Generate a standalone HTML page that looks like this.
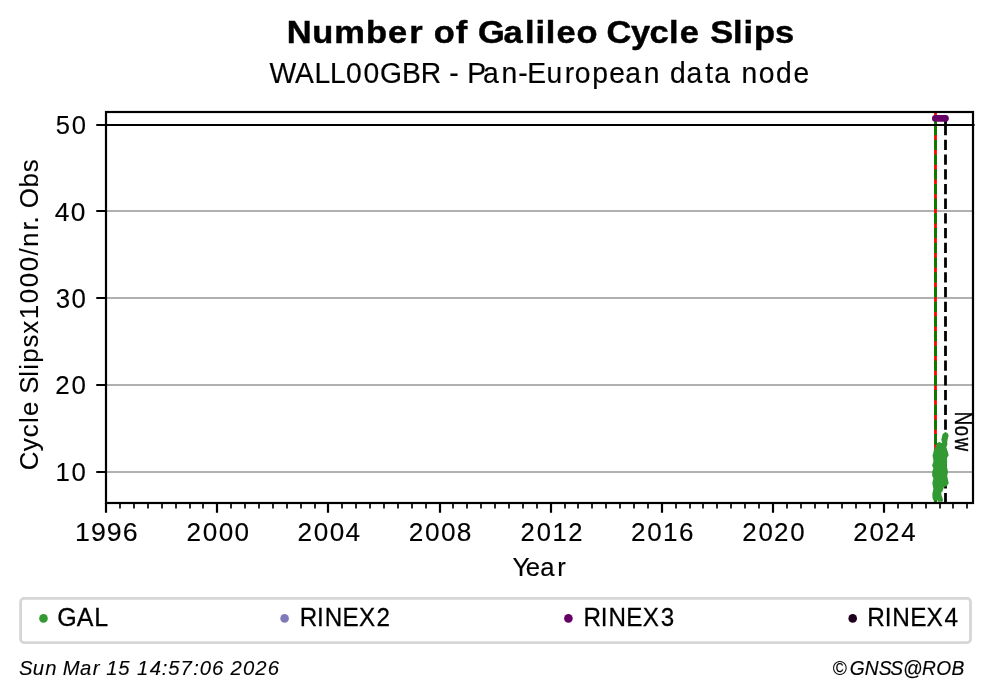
<!DOCTYPE html>
<html><head><meta charset="utf-8"><title>Number of Galileo Cycle Slips</title><style>
html,body{margin:0;padding:0;background:#fff;}
svg{display:block;will-change:transform;}
text{font-family:"Liberation Sans", sans-serif;font-size:100px;fill:#000;}
</style></head><body>
<svg width="993" height="699" viewBox="0 0 993 699">
<rect width="993" height="699" fill="#fff"/>
<path d="M106 472H973" stroke="#b0b0b0" stroke-width="2.2"/>
<path d="M106 385H973" stroke="#b0b0b0" stroke-width="2.2"/>
<path d="M106 298H973" stroke="#b0b0b0" stroke-width="2.2"/>
<path d="M106 211H973" stroke="#b0b0b0" stroke-width="2.2"/>
<path d="M96.28 472H106 M96.28 385H106 M96.28 298H106 M96.28 211H106 M96.28 125H106" stroke="#000" stroke-width="2.2" fill="none"/>
<path d="M106 503V512.72 M217 503V512.72 M328 503V512.72 M440 503V512.72 M551 503V512.72 M662 503V512.72 M773 503V512.72 M884 503V512.72" stroke="#000" stroke-width="2.2" fill="none"/>
<path d="M120 503V508.56 M134 503V508.56 M148 503V508.56 M162 503V508.56 M176 503V508.56 M190 503V508.56 M203 503V508.56 M231 503V508.56 M245 503V508.56 M259 503V508.56 M273 503V508.56 M287 503V508.56 M301 503V508.56 M315 503V508.56 M342 503V508.56 M356 503V508.56 M370 503V508.56 M384 503V508.56 M398 503V508.56 M412 503V508.56 M426 503V508.56 M453 503V508.56 M467 503V508.56 M481 503V508.56 M495 503V508.56 M509 503V508.56 M523 503V508.56 M537 503V508.56 M565 503V508.56 M578 503V508.56 M592 503V508.56 M606 503V508.56 M620 503V508.56 M634 503V508.56 M648 503V508.56 M676 503V508.56 M690 503V508.56 M703 503V508.56 M717 503V508.56 M731 503V508.56 M745 503V508.56 M759 503V508.56 M787 503V508.56 M801 503V508.56 M815 503V508.56 M828 503V508.56 M842 503V508.56 M856 503V508.56 M870 503V508.56 M898 503V508.56 M912 503V508.56 M926 503V508.56 M940 503V508.56 M953 503V508.56 M967 503V508.56" stroke="#000" stroke-width="1.67" fill="none"/>
<clipPath id="ax"><rect x="106" y="112" width="867.00" height="391.00"/></clipPath>
<g clip-path="url(#ax)">
<path d="M935.5 112V503" stroke="#f00" stroke-width="2.78"/>
<path d="M935.5 125.00V135.28 M935.5 139.72V150.00 M935.5 154.44V164.72 M935.5 169.16V179.44 M935.5 183.88V194.16 M935.5 198.60V208.88 M935.5 213.32V223.60 M935.5 228.04V238.32 M935.5 242.76V253.04 M935.5 257.48V267.76 M935.5 272.20V282.48 M935.5 286.92V297.20 M935.5 301.64V311.92 M935.5 316.36V326.64 M935.5 331.08V341.36 M935.5 345.80V356.08 M935.5 360.52V370.80 M935.5 375.24V385.52 M935.5 389.96V400.24 M935.5 404.68V414.96 M935.5 419.40V429.68 M935.5 434.12V444.40 M935.5 448.84V459.12 M935.5 463.56V473.84 M935.5 478.28V488.56 M935.5 493.00V503.00 M935.5 125.00V115.52" stroke="#008000" stroke-width="2.78" fill="none"/>
<path d="M945.5 125.00V135.28 M945.5 139.72V150.00 M945.5 154.44V164.72 M945.5 169.16V179.44 M945.5 183.88V194.16 M945.5 198.60V208.88 M945.5 213.32V223.60 M945.5 228.04V238.32 M945.5 242.76V253.04 M945.5 257.48V267.76 M945.5 272.20V282.48 M945.5 286.92V297.20 M945.5 301.64V311.92 M945.5 316.36V326.64 M945.5 331.08V341.36 M945.5 345.80V356.08 M945.5 360.52V370.80 M945.5 375.24V385.52 M945.5 389.96V400.24 M945.5 404.68V414.96 M945.5 419.40V429.68 M945.5 434.12V444.40 M945.5 448.84V459.12 M945.5 463.56V473.84 M945.5 478.28V488.56 M945.5 493.00V503.00 M945.5 125.00V115.52" stroke="#000" stroke-width="2.78" fill="none"/>
</g>
<path d="M945.35 432.1L947.6 433.2L948.7 435.4L948 437.7L947.6 439.5L947.2 442.1L947.4 444.4L946.65 446.6L946.3 448.1L946.8 449.2L947.6 451.1L948.7 455.3L946.8 458.3L947.2 461.7L946.8 466.1L948 471.7L947.2 476.2L947.95 479.6L948.7 483.3L946.8 485.9L943.9 487L943.3 488.9L942.4 491.5L941.25 492.6L941.6 495.6L942.4 497.8L943.1 500L942.4 501.8L937.9 501.8L937.6 500.2L933.5 500.5L932.5 498.2L932.3 493.7L933.4 488.9L932.3 482.9L933.4 478.5L932.1 475.5L932.3 471.3L933.4 468.4L932.1 465.4L933.4 461.7L933.25 459.4L932.5 455.3L933.25 453.3L933.8 450.3L934.6 448.8L936.8 443.6L937.2 442.9L939.4 442.1L941.6 442.9L942 442.9L941.8 441.4L941.25 439.5L941.6 438.4L942.2 435.8L942.7 434Z" fill="#339933"/>
<rect x="932" y="115.1" width="16.8" height="6.6" rx="3.3" fill="#660066"/>
<path d="M106 125H974.6" stroke="#000" stroke-width="2.2"/>
<rect x="106" y="112" width="867.00" height="391.00" fill="none" stroke="#000" stroke-width="2.2"/>
<rect x="20.6" y="598.4" width="949.9" height="44.2" rx="3.4" fill="#fff" stroke="#d6d6d6" stroke-width="2.8"/>
<circle cx="43.5" cy="618.4" r="4.3" fill="#339933"/>
<circle cx="284.6" cy="618.4" r="4.3" fill="#7f7bbb"/>
<circle cx="568.4" cy="618.4" r="4.3" fill="#660066"/>
<circle cx="852.7" cy="618.4" r="4.3" fill="#1e001e"/>
<text transform="translate(286.39,43.10) scale(0.3444,0.3207)" x="1.0 75.2 139.1 231.5 295.1 357.0 397.3 428.1 492.0 527.7 556.1 630.1 692.6 723.0 753.4 784.3 842.6 903.6 929.6 1000.3 1054.3 1111.3 1142.2 1200.6 1230.5 1296.7 1327.1 1357.8 1418.7" y="0" font-weight="bold" stroke="#000" stroke-width="1.44">Number of Galileo Cycle Slips</text>
<text transform="translate(269.02,82.90) scale(0.2827,0.2929)" x="1.4 92.0 160.7 215.5 272.0 334.5 392.7 470.0 536.8 605.4 637.8 672.1 701.3 756.9 822.0 881.8 913.6 981.4 1046.1 1081.1 1143.0 1203.9 1260.5 1325.6 1384.3 1418.3 1476.6 1543.3 1575.3 1636.9 1671.7 1732.7 1793.3 1855.5" y="0" stroke="#000" stroke-width="0.63">WALL00GBR - Pan-European data node</text>
<text transform="translate(54.95,134.10) scale(0.2562,0.2667)" x="2.8 65.3" y="0" stroke="#000" stroke-width="0.54">50</text>
<text transform="translate(54.15,220.85) scale(0.2636,0.2660)" x="2.3 62.7" y="0" stroke="#000" stroke-width="0.53">40</text>
<text transform="translate(54.95,307.60) scale(0.2583,0.2671)" x="3.1 64.5" y="0" stroke="#000" stroke-width="0.53">30</text>
<text transform="translate(54.95,394.35) scale(0.2589,0.2664)" x="1.6 64.3" y="0" stroke="#000" stroke-width="0.53">20</text>
<text transform="translate(54.95,481.10) scale(0.2579,0.2660)" x="2.5 64.7" y="0" stroke="#000" stroke-width="0.53">10</text>
<text transform="translate(74.55,541.35) scale(0.2675,0.2665)" x="1.4 61.1 120.5 180.3" y="0" stroke="#000" stroke-width="0.56">1996</text>
<text transform="translate(186.19,541.35) scale(0.2612,0.2667)" x="1.4 63.5 124.4 185.3" y="0" stroke="#000" stroke-width="0.57">2000</text>
<text transform="translate(297.20,541.35) scale(0.2613,0.2662)" x="1.3 63.5 124.4 185.2" y="0" stroke="#000" stroke-width="0.57">2004</text>
<text transform="translate(408.50,541.35) scale(0.2619,0.2667)" x="1.3 63.3 124.0 184.7" y="0" stroke="#000" stroke-width="0.57">2008</text>
<text transform="translate(520.03,541.35) scale(0.2560,0.2659)" x="2.0 65.4 127.0 188.4" y="0" stroke="#000" stroke-width="0.57">2012</text>
<text transform="translate(630.71,541.35) scale(0.2607,0.2662)" x="1.4 63.7 124.2 185.7" y="0" stroke="#000" stroke-width="0.57">2016</text>
<text transform="translate(741.89,541.35) scale(0.2589,0.2664)" x="1.6 64.3 124.5 187.2" y="0" stroke="#000" stroke-width="0.57">2020</text>
<text transform="translate(852.90,541.35) scale(0.2590,0.2659)" x="1.6 64.3 124.4 187.1" y="0" stroke="#000" stroke-width="0.57">2024</text>
<text transform="translate(513.31,576.00) scale(0.2564,0.2625)" x="-3.6 49.0 105.0 171.6" y="0" stroke="#000" stroke-width="0.58">Year</text>
<text transform="translate(37.95,469.57) rotate(-90) scale(0.2590,0.2642)" x="-2.9 71.0 124.9 179.9 206.5 263.8 292.3 358.1 385.0 412.9 471.6 524.4 580.6 642.5 703.9 765.3 826.2 859.4 922.7 949.8 979.1 1008.9 1089.2 1147.9" y="0" stroke="#000" stroke-width="0.38">Cycle Slipsx1000/nr. Obs</text>
<text transform="translate(57.26,625.60) scale(0.2502,0.2656)" x="-0.3 78.2 148.0" y="0" stroke="#000" stroke-width="0.97">GAL</text>
<text transform="translate(299.29,625.60) scale(0.2420,0.2650)" x="1.6 73.1 104.8 178.6 246.7 319.2" y="0" stroke="#000" stroke-width="0.99">RINEX2</text>
<text transform="translate(583.09,625.60) scale(0.2419,0.2653)" x="1.6 73.2 104.8 178.7 246.8 320.8" y="0" stroke="#000" stroke-width="0.99">RINEX3</text>
<text transform="translate(866.99,625.60) scale(0.2438,0.2649)" x="1.3 72.5 103.7 177.0 244.6 317.9" y="0" stroke="#000" stroke-width="0.98">RINEX4</text>
<text transform="translate(20.00,675.10) scale(0.2030,0.2049)" x="-5.1 62.8 123.9 182.2 210.8 296.2 358.7 393.4 424.5 484.5 545.7 576.8 638.7 698.9 730.0 791.2 853.0 885.3 946.1 1006.3 1037.6 1098.5 1159.5 1220.3" y="0" font-style="italic" stroke="#000" stroke-width="0.49">Sun Mar 15 14:57:06 2026</text>
<text transform="translate(830.23,675.00) scale(0.1918,0.2049)" x="12.3 101.2 180.2 252.5 313.2 380.1 478.0 552.5 632.5" y="0" font-style="italic" stroke="#000" stroke-width="0.86">©GNSS@ROB</text>
<text transform="translate(955.10,413.20) rotate(90) scale(0.1856,0.2384)" x="-8.1 67.3 131.7" y="0" stroke="#000" stroke-width="1.43">Now</text>
</svg>
</body></html>
